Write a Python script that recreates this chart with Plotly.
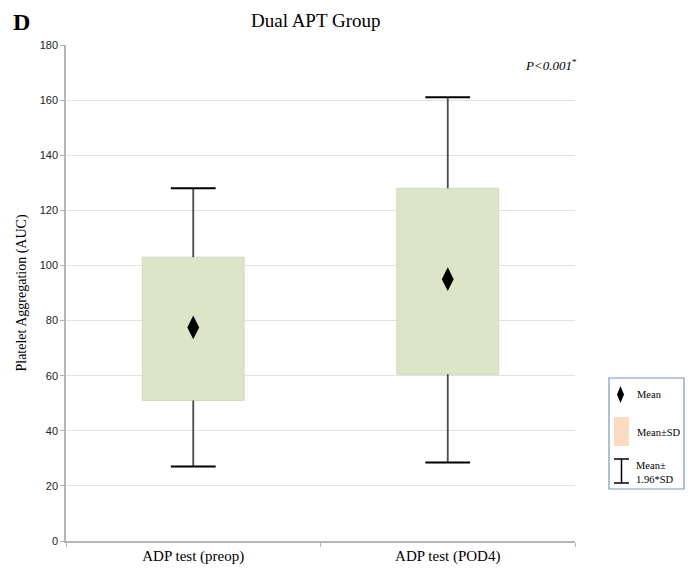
import plotly.graph_objects as go

categories = ["ADP test (preop)", "ADP test (POD4)"]
mean_vals = [77.5, 95.0]
sd_low = [51.0, 60.5]
sd_high = [103.0, 128.0]
ci_low = [27.0, 28.5]
ci_high = [128.0, 161.0]
y_ticks = [0, 20, 40, 60, 80, 100, 120, 140, 160, 180]

# page has an 8px body margin, so the figure is drawn 8px smaller and offset
OFF = 8
W, H = 688, 568
L, R, T, B = 58, 121, 37, 35
PW, PH = W - L - R, H - T - B

def px(x):
    return (x - OFF - L) / PW

def py(y):
    return (H - B - (y - OFF)) / PH

fig = go.Figure()

# boxes (mean ± SD)
fig.add_trace(go.Bar(
    x=categories, y=[h - l for h, l in zip(sd_high, sd_low)], base=sd_low,
    width=0.4, marker=dict(color="#dce5c8", line=dict(color="#d2d8c2", width=1)),
    showlegend=False, hoverinfo="skip"))

# whisker stems (outside the boxes only)
wx, wy = [], []
for c, lo, hi, slo, shi in zip(categories, ci_low, ci_high, sd_low, sd_high):
    wx += [c, c, None, c, c, None]
    wy += [shi, hi, None, slo, lo, None]
fig.add_trace(go.Scatter(x=wx, y=wy, mode="lines",
                         line=dict(color="#4a4a4a", width=1.8),
                         showlegend=False, hoverinfo="skip"))

# whisker caps
fig.add_trace(go.Scatter(
    x=categories + categories, y=ci_high + ci_low, mode="markers",
    marker=dict(symbol="line-ew", size=32, line=dict(color="black", width=2)),
    showlegend=False, hoverinfo="skip"))

# means
fig.add_trace(go.Scatter(
    x=categories, y=mean_vals, mode="markers",
    marker=dict(symbol="diamond-tall", size=17, color="black"),
    showlegend=False))

shapes = []
# legend box
shapes.append(dict(type="rect", xref="paper", yref="paper",
                   x0=px(609), x1=px(684), y0=py(489), y1=py(378),
                   line=dict(color="#7b96c4", width=1.2), fillcolor="white"))
# legend diamond
cx, cy = 620.5, 394.5
shapes.append(dict(type="path", xref="paper", yref="paper",
                   path=f"M{px(cx)},{py(cy-8.5)} L{px(cx+3.5)},{py(cy)} L{px(cx)},{py(cy+8.5)} L{px(cx-3.5)},{py(cy)} Z",
                   fillcolor="black", line=dict(width=0)))
# legend peach rect
shapes.append(dict(type="rect", xref="paper", yref="paper",
                   x0=px(614), x1=px(629), y0=py(446), y1=py(417),
                   fillcolor="#fcdcc0", line=dict(width=0)))
# legend error bar symbol
for seg in [((621.5, 459), (621.5, 483)), ((614, 459), (629, 459)), ((614, 483), (629, 483))]:
    shapes.append(dict(type="line", xref="paper", yref="paper",
                       x0=px(seg[0][0]), y0=py(seg[0][1]), x1=px(seg[1][0]), y1=py(seg[1][1]),
                       line=dict(color="black", width=1.5)))

serif = "Liberation Serif"
annotations = []
annotations.append(dict(text="<b>D</b>", xref="paper", yref="paper", x=px(11), y=py(22),
                        xanchor="left", yanchor="middle", showarrow=False,
                        font=dict(family=serif, size=24, color="black")))
annotations.append(dict(text="Dual APT Group", xref="paper", yref="paper", x=px(315), y=py(20),
                        xanchor="center", yanchor="middle", showarrow=False,
                        font=dict(family=serif, size=19, color="black")))
annotations.append(dict(text="<i>P&lt;0.001</i><sup>*</sup>", xref="paper", yref="paper",
                        x=px(579), y=py(65), xanchor="right", yanchor="middle", showarrow=False,
                        font=dict(family=serif, size=13, color="black")))
annotations.append(dict(text="Mean", xref="paper", yref="paper", x=px(635), y=py(395),
                        xanchor="left", yanchor="middle", showarrow=False,
                        font=dict(family=serif, size=10.5, color="black")))
annotations.append(dict(text="Mean±SD", xref="paper", yref="paper", x=px(635), y=py(432),
                        xanchor="left", yanchor="middle", showarrow=False,
                        font=dict(family=serif, size=10.5, color="black")))
annotations.append(dict(text="Mean±<br>1.96*SD", xref="paper", yref="paper", x=px(634), y=py(472.5),
                        xanchor="left", yanchor="middle", align="left", showarrow=False,
                        font=dict(family=serif, size=10.5, color="black")))

fig.update_layout(
    width=W, height=H,
    margin=dict(l=L, r=R, t=T, b=B, pad=0),
    plot_bgcolor="white", paper_bgcolor="white",
    shapes=shapes, annotations=annotations,
    showlegend=False,
    xaxis=dict(type="category", range=[-0.5, 1.5], showgrid=False,
               showline=True, linecolor="#b5b5b5", linewidth=1.5,
               ticks="outside", ticklen=4, tickcolor="#b5b5b5", tickson="boundaries",
               tickfont=dict(family=serif, size=15, color="black")),
    yaxis=dict(range=[0, 180], tickvals=y_ticks, showgrid=True, gridcolor="#e2e2e2",
               gridwidth=1, zeroline=False,
               showline=True, linecolor="#b5b5b5", linewidth=1.5,
               ticks="outside", ticklen=4, tickcolor="#b5b5b5",
               tickfont=dict(family="Liberation Sans", size=11, color="#222222"),
               title=dict(text="Platelet Aggregation (AUC)", standoff=10,
                          font=dict(family=serif, size=14, color="black"))),
)

fig.write_html("out.html")
